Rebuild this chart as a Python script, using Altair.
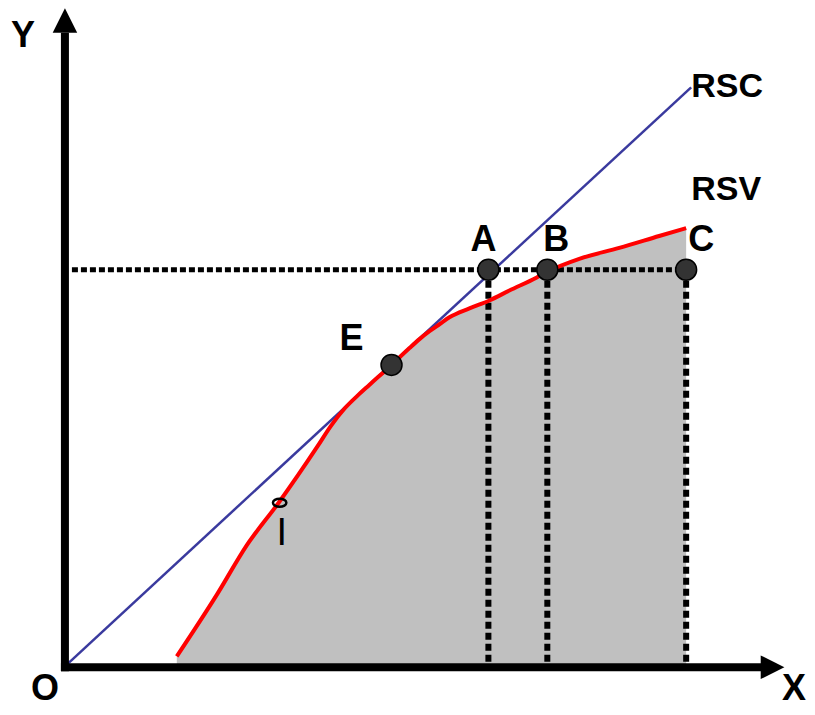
import altair as alt
import pandas as pd

# ---- data (units: 1 unit = 100 px of the reference, origin at O) ----
rsv_x = [1.12, 1.52, 1.82, 2.14, 2.53, 2.66, 2.80, 2.93, 3.05, 3.27, 3.45, 3.55, 3.65, 3.75, 3.85, 4.05, 4.25, 4.45, 4.72, 4.83, 5.15, 5.55, 5.95, 6.22]
rsv_y = [0.10, 0.72, 1.22, 1.65, 2.22, 2.42, 2.60, 2.73, 2.84, 3.04, 3.21, 3.30, 3.38, 3.45, 3.52, 3.61, 3.69, 3.79, 3.92, 3.98, 4.11, 4.22, 4.34, 4.42]

rsc_x = [0.0, 6.27]
rsc_y = [0.0, 5.84]

pt_names = ["A", "B", "C", "E"]
pt_x = [4.24, 4.83, 6.22, 3.27]
pt_y = [4.00, 4.00, 4.00, 3.04]

level_y = 4.00
drop_x = [4.24, 4.83, 6.22]

i_x, i_y = [2.15], [1.65]

lbl_text = ["A", "B", "C", "E", "Y", "O", "X"]
lbl_x = [4.19, 4.92, 6.37, 2.87, -0.42, -0.20, 7.30]
lbl_y = [4.19, 4.19, 4.19, 3.19, 6.25, -0.34, -0.34]

curve_text = ["RSC", "RSV"]
curve_x = [6.27, 6.27]
curve_y = [5.74, 4.70]

XD = [-0.57, 7.42]
YD = [-0.35, 6.64]

xs = alt.Scale(domain=XD, nice=False, zero=False)
ys = alt.Scale(domain=YD, nice=False, zero=False)

def X(field="x"):
    return alt.X(f"{field}:Q", scale=xs, axis=None)

def Y(field="y"):
    return alt.Y(f"{field}:Q", scale=ys, axis=None)

rsv = pd.DataFrame({"x": rsv_x, "y": rsv_y, "y0": [0.0] * len(rsv_x)})
area = alt.Chart(rsv).mark_area(color="#c0c0c0", opacity=1, interpolate="monotone").encode(
    x=X(), y=Y(), y2="y0:Q")
redline = alt.Chart(rsv).mark_line(color="#ff0000", strokeWidth=4, interpolate="monotone").encode(
    x=X(), y=Y())

rsc = pd.DataFrame({"x": rsc_x, "y": rsc_y})
rscline = alt.Chart(rsc).mark_line(color="#3a3a9e", strokeWidth=2.5).encode(x=X(), y=Y())

hdash = alt.Chart(pd.DataFrame({"x": [0.07], "x2": [6.25], "y": [level_y]})).mark_rule(
    color="black", strokeWidth=5, strokeDash=[6, 3]).encode(x=X(), x2="x2:Q", y=Y())
vdash = alt.Chart(pd.DataFrame({"x": drop_x, "y": [level_y] * 3, "y2": [0.04] * 3})).mark_rule(
    color="black", strokeWidth=6, strokeDash=[7, 4]).encode(x=X(), y=Y(), y2="y2:Q")

yaxis = alt.Chart(pd.DataFrame({"x": [0.0], "y": [-0.05], "y2": [6.39]})).mark_rule(
    color="black", strokeWidth=8).encode(x=X(), y=Y(), y2="y2:Q")
xaxis = alt.Chart(pd.DataFrame({"x": [-0.04], "x2": [6.97], "y": [-0.01]})).mark_rule(
    color="black", strokeWidth=8).encode(x=X(), x2="x2:Q", y=Y())

yarrow = alt.Chart(pd.DataFrame({"x": [0.0], "y": [6.515]})).mark_point(
    shape="M-1,1 L1,1 L0,-1 Z", size=600, filled=True, color="black", opacity=1).encode(x=X(), y=Y())
xarrow = alt.Chart(pd.DataFrame({"x": [7.085], "y": [-0.01]})).mark_point(
    shape="M-1,-1 L1,0 L-1,1 Z", size=560, filled=True, color="black", opacity=1).encode(x=X(), y=Y())

pts = alt.Chart(pd.DataFrame({"n": pt_names, "x": pt_x, "y": pt_y})).mark_point(
    shape="circle", size=440, filled=True, fill="#333333", stroke="black", strokeWidth=1.5,
    opacity=1, fillOpacity=1, strokeOpacity=1).encode(x=X(), y=Y())

imark = alt.Chart(pd.DataFrame({"x": i_x, "y": i_y})).mark_point(
    shape="M-1,0 A1,0.6 0 1,0 1,0 A1,0.6 0 1,0 -1,0 Z", size=180, filled=False,
    color="black", strokeWidth=2.5, opacity=1).encode(x=X(), y=Y())

labels = alt.Chart(pd.DataFrame({"t": lbl_text, "x": lbl_x, "y": lbl_y})).mark_text(
    font="Liberation Sans", fontWeight="bold", fontSize=36, align="center",
    baseline="alphabetic", color="black").encode(x=X(), y=Y(), text="t:N")

clabels = alt.Chart(pd.DataFrame({"t": curve_text, "x": curve_x, "y": curve_y})).mark_text(
    font="Liberation Sans", fontWeight="bold", fontSize=34, align="left",
    baseline="alphabetic", color="black").encode(x=X(), y=Y(), text="t:N")

ilabel = alt.Chart(pd.DataFrame({"t": ["I"], "x": [2.17], "y": [1.22]})).mark_text(
    font="Liberation Sans", fontSize=38, align="center",
    baseline="alphabetic", color="black").encode(x=X(), y=Y(), text="t:N")

chart = alt.layer(
    area, hdash, vdash, rscline, redline, pts, imark,
    yaxis, xaxis, yarrow, xarrow, labels, clabels, ilabel
).properties(
    width=799, height=699, padding=0,
    autosize=alt.AutoSizeParams(type="fit", contains="padding"),
    background="white"
).configure_view(stroke=None)

chart.save("out.html", embed_options={"renderer": "svg", "actions": False})
